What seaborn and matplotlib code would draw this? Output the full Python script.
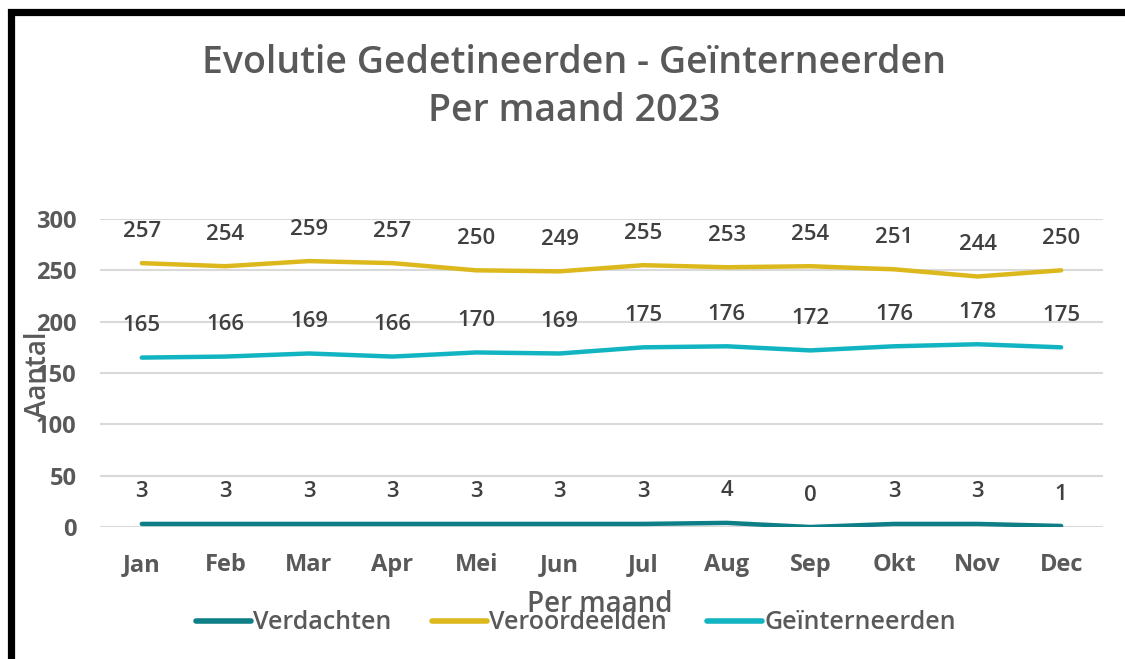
"""Evolutie gedetineerden - geïnterneerden per maand 2023."""

import matplotlib

matplotlib.use("Agg")
import matplotlib.pyplot as plt
import matplotlib.patches as mpatches
import pandas as pd
import seaborn as sns

months = ["Jan", "Feb", "Mar", "Apr", "Mei", "Jun", "Jul", "Aug", "Sep", "Okt", "Nov", "Dec"]
verdachten = [3, 3, 3, 3, 3, 3, 3, 4, 0, 3, 3, 1]
veroordeelden = [257, 254, 259, 257, 250, 249, 255, 253, 254, 251, 244, 250]
geinterneerden = [165, 166, 169, 166, 170, 169, 175, 176, 172, 176, 178, 175]

series = {
    "Verdachten": verdachten,
    "Veroordeelden": veroordeelden,
    "Geïnterneerden": geinterneerden,
}
colors = {
    "Verdachten": "#0E7F86",
    "Veroordeelden": "#DDB81C",
    "Geïnterneerden": "#12B4C2",
}

rows = []
for name, vals in series.items():
    for i, v in enumerate(vals):
        rows.append({"maand": i, "label": months[i], "reeks": name, "aantal": v})
df = pd.DataFrame(rows)

sns.set_theme(style="white")
plt.rcParams["font.family"] = ["Open Sans", "DejaVu Sans"]

GREY = "#595959"
DARK = "#404040"

fig = plt.figure(figsize=(11.25, 6.59), dpi=100)
ax = fig.add_axes([0.0889, 0.2003, 0.8915, 0.4674])

sns.lineplot(
    data=df,
    x="maand",
    y="aantal",
    hue="reeks",
    palette=colors,
    linewidth=3.2,
    ax=ax,
    legend=True,
    solid_capstyle="round",
)

# data labels
for name, vals in series.items():
    for i, v in enumerate(vals):
        ax.annotate(
            str(v),
            (i, v),
            xytext=(0, 23),
            textcoords="offset points",
            ha="center",
            va="center",
            fontsize=16,
            fontweight="semibold",
            color=DARK,
        )

ax.set_xlim(-0.5, 11.5)
ax.set_ylim(0, 300)
ax.set_yticks(range(0, 301, 50))
ax.set_xticks(range(12))
ax.set_xticklabels(months)
ax.grid(axis="y", color="#D9D9D9", linewidth=1.5)
ax.set_axisbelow(True)
for s in ax.spines.values():
    s.set_visible(False)
ax.tick_params(axis="both", length=0, labelsize=17, colors=GREY)
ax.tick_params(axis="x", pad=19)
ax.tick_params(axis="y", pad=17)
for lbl in ax.get_xticklabels() + ax.get_yticklabels():
    lbl.set_fontweight("bold")

ax.set_xlabel("")
ax.set_ylabel("")
fig.text(0.034, 0.431, "Aantal", rotation=90, ha="center", va="center",
         fontsize=20, fontweight="semibold", color=GREY)
fig.text(0.533, 0.083, "Per maand", ha="center", va="center",
         fontsize=20, fontweight="semibold", color=GREY)

handles, labels = ax.get_legend_handles_labels()
ax.get_legend().remove()
leg = fig.legend(
    handles,
    labels,
    loc="center",
    bbox_to_anchor=(0.512, 0.055),
    ncol=3,
    frameon=False,
    prop={"size": 18, "weight": "semibold"},
    handlelength=2.2,
    handletextpad=0.1,
    columnspacing=1.6,
)
for t in leg.get_texts():
    t.set_color(GREY)
for h in leg.get_lines():
    h.set_linewidth(4)

fig.text(0.51, 0.905, "Evolutie Gedetineerden - Geïnterneerden", ha="center",
         va="center", fontsize=27, fontweight="semibold", color=GREY)
fig.text(0.51, 0.832, "Per maand 2023", ha="center", va="center",
         fontsize=27, fontweight="semibold", color=GREY)

# outer border
fig.patches.append(
    mpatches.Rectangle(
        (0.0102, -0.1), 1.2, 0.9825 + 0.1,
        transform=fig.transFigure, fill=False, edgecolor="black",
        linewidth=5.2, clip_on=False,
    )
)

fig.savefig("out.png", dpi=100)
plt.close(fig)
